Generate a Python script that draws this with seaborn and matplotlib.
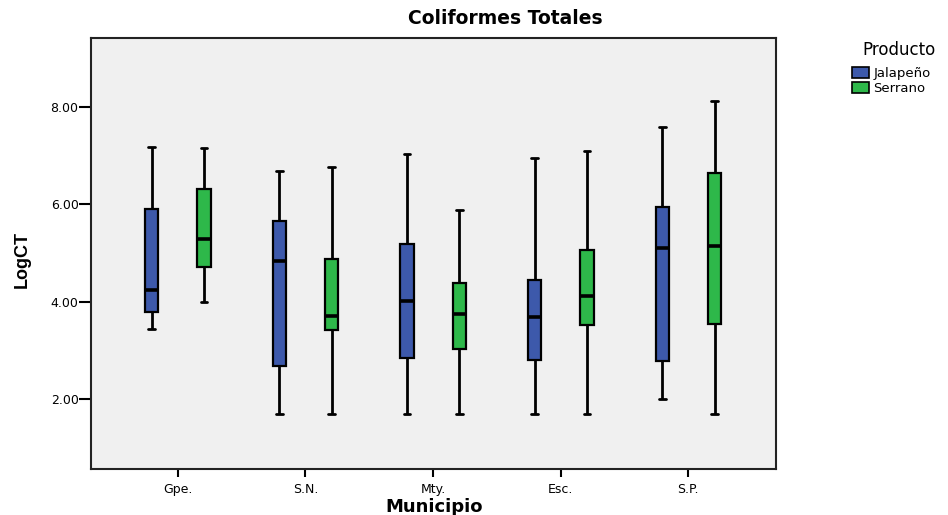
import numpy as np
import pandas as pd
import matplotlib
matplotlib.use("Agg")
import matplotlib.pyplot as plt
import seaborn as sns
from matplotlib.patches import Patch

municipios = ["Gpe.", "S.N.", "Mty.", "Esc.", "S.P."]
productos = ["Jalapeño", "Serrano"]

# five-number summaries: min, Q1, median, Q3, max
jalapeno_stats = [
    [3.44, 3.79, 4.24, 5.90, 7.18],
    [1.70, 2.69, 4.84, 5.66, 6.69],
    [1.70, 2.85, 4.02, 5.19, 7.02],
    [1.70, 2.80, 3.69, 4.45, 6.94],
    [2.00, 2.79, 5.10, 5.95, 7.58],
]
serrano_stats = [
    [4.00, 4.72, 5.29, 6.32, 7.16],
    [1.70, 3.42, 3.70, 4.88, 6.76],
    [1.70, 3.04, 3.74, 4.38, 5.88],
    [1.70, 3.52, 4.12, 5.07, 7.09],
    [1.70, 3.54, 5.14, 6.65, 8.12],
]
y_ticks = [2.0, 4.0, 6.0, 8.0]
y_tick_labels = ["2.00", "4.00", "6.00", "8.00"]

rows = []
for prod, stats in zip(productos, [jalapeno_stats, serrano_stats]):
    for mun, vals in zip(municipios, stats):
        for v in vals:
            rows.append({"Municipio": mun, "Producto": prod, "LogCT": v})
df = pd.DataFrame(rows)

sns.set_style("white")
plt.rcParams["font.family"] = ["DejaVu Sans"]
plt.rcParams["text.color"] = "black"

colors = {"Jalapeño": "#3D59AB", "Serrano": "#2EB84A"}

fig = plt.figure(figsize=(9.48, 5.15), dpi=100)
ax = fig.add_axes([91 / 948, 1 - 469 / 515, (775.7 - 91) / 948, (469 - 37.7) / 515])
ax.set_facecolor("#F0F0F0")

sns.boxplot(
    data=df, x="Municipio", y="LogCT", hue="Producto",
    order=municipios, hue_order=productos, palette=colors, saturation=1,
    width=0.82, gap=0.746, whis=(0, 100), fliersize=0,
    linewidth=1.6, linecolor="black",
    medianprops={"linewidth": 2.6, "color": "black"},
    whiskerprops={"linewidth": 2.0, "color": "black"},
    capprops={"linewidth": 2.0, "color": "black"},
    boxprops={"edgecolor": "black"},
    ax=ax, legend=False,
)

ax.set_xlim(-0.679, 4.684)
ax.set_ylim(0.571, 9.415)
ax.set_yticks(y_ticks)
ax.set_yticklabels(y_tick_labels)
ax.tick_params(axis="y", direction="out", length=9, width=1.5, color="black",
               labelsize=9, pad=0, left=True, labelcolor="black")
ax.tick_params(axis="x", direction="out", length=6, width=1.5, color="black",
               labelsize=9, pad=4, bottom=True, labelcolor="black")
for s in ax.spines.values():
    s.set_color("#222222")
    s.set_linewidth(1.5)

ax.set_xlabel("")
ax.set_ylabel("")
fig.text(434 / 948, 1 - 507 / 515, "Municipio", ha="center", va="center",
         fontsize=13, fontweight="bold")
fig.text(505 / 948, 1 - 19 / 515, "Coliformes Totales", ha="center", va="center",
         fontsize=13.5, fontweight="bold")
fig.text(22 / 948, 1 - 259 / 515, "LogCT", ha="center", va="center", rotation=90,
         fontsize=13, fontweight="bold", family=["Liberation Sans", "DejaVu Sans"])

fig.text(899 / 948, 1 - 50 / 515, "Producto", ha="center", va="center", fontsize=12)
handles = [Patch(facecolor=colors[p], edgecolor="black", linewidth=1.2, label=p) for p in productos]
leg = fig.legend(handles=handles, loc="upper left",
                 bbox_to_anchor=(843 / 948, 1 - 58 / 515), frameon=False,
                 fontsize=9.5, handlelength=1.3, handleheight=0.9,
                 handletextpad=0.3, labelspacing=0.1, borderpad=0.2)

fig.savefig("out.png", dpi=100)
